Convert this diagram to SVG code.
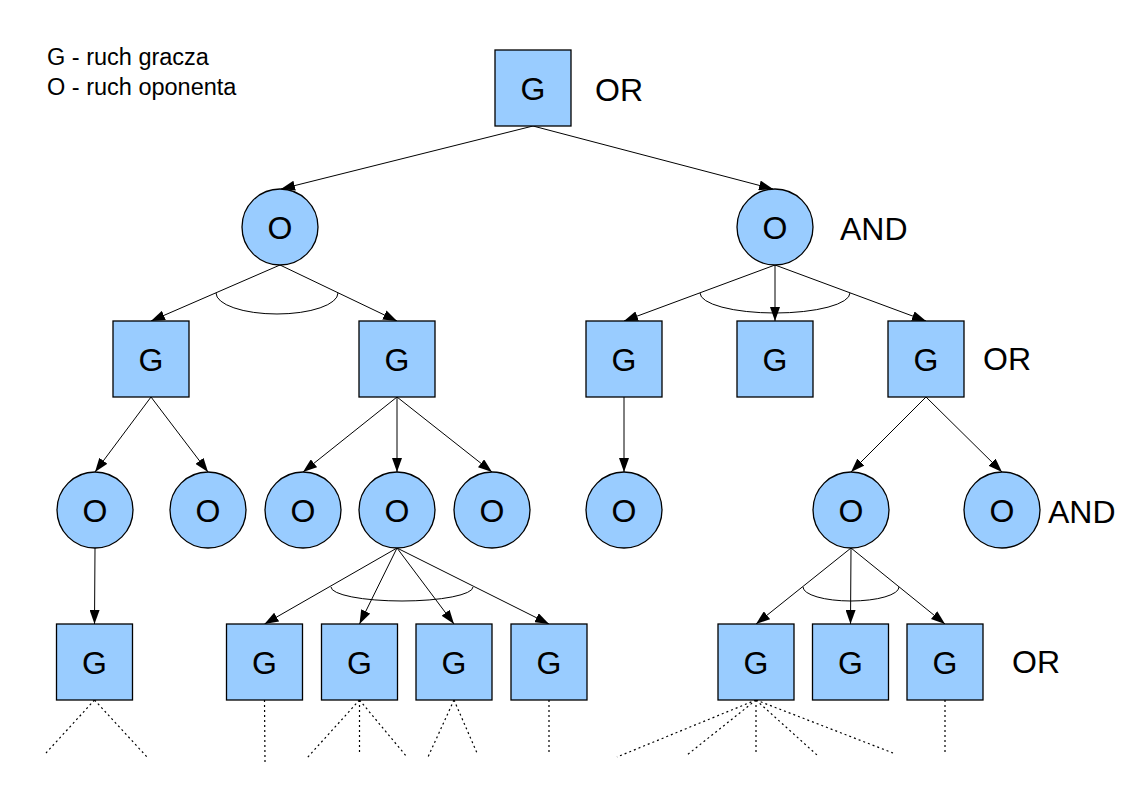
<svg xmlns="http://www.w3.org/2000/svg" width="1123" height="794" viewBox="0 0 1123 794">
<style>
.g rect{fill:#99ccff;stroke:#000;stroke-width:1.3}
.o circle{fill:#99ccff;stroke:#000;stroke-width:1.3}
.t{font-family:"Liberation Sans",Arial,sans-serif;font-size:32px;fill:#000}
.lbl{font-family:"Liberation Sans",Arial,sans-serif;font-size:23.5px;fill:#000}
.c line{stroke:#000;stroke-width:1;marker-end:url(#ah)}
.d line{stroke:#000;stroke-width:1.2;stroke-dasharray:2 3}
.arc path{fill:none;stroke:#000;stroke-width:1}
</style>
<defs>
<marker id="ah" markerUnits="userSpaceOnUse" markerWidth="14" markerHeight="10" refX="14" refY="5" orient="auto">
<path d="M0,0 L14,5 L0,10 z" fill="#000"/>
</marker>
</defs>
<rect width="1123" height="794" fill="#fff"/>
<g id="legend">
<text class="lbl" x="47" y="65">G - ruch gracza</text>
<text class="lbl" x="47" y="95">O - ruch oponenta</text>
</g>
<g id="labels">
<text class="t" x="595" y="101">OR</text>
<text class="t" x="840" y="240">AND</text>
<text class="t" x="983" y="370">OR</text>
<text class="t" x="1048" y="523">AND</text>
<text class="t" x="1012" y="673">OR</text>
</g>
<g id="connectors" class="c">
<line x1="533" y1="126" x2="281" y2="189"/>
<line x1="533" y1="126" x2="773" y2="189"/>
<line x1="280" y1="265" x2="151" y2="321"/>
<line x1="280" y1="265" x2="397" y2="321"/>
<line x1="775" y1="265" x2="624" y2="321"/>
<line x1="775" y1="265" x2="775" y2="321"/>
<line x1="775" y1="265" x2="926" y2="321"/>
<line x1="151" y1="397" x2="95" y2="472"/>
<line x1="151" y1="397" x2="208" y2="472"/>
<line x1="397" y1="397" x2="303" y2="472"/>
<line x1="397" y1="397" x2="397" y2="472"/>
<line x1="397" y1="397" x2="492" y2="472"/>
<line x1="624" y1="397" x2="624" y2="472"/>
<line x1="926" y1="397" x2="851" y2="472"/>
<line x1="926" y1="397" x2="1002" y2="472"/>
<line x1="95" y1="548" x2="94.5" y2="624"/>
<line x1="397" y1="548" x2="264.5" y2="624"/>
<line x1="397" y1="548" x2="359.5" y2="624"/>
<line x1="397" y1="548" x2="454" y2="624"/>
<line x1="397" y1="548" x2="549" y2="624"/>
<line x1="851" y1="548" x2="756" y2="624"/>
<line x1="851" y1="548" x2="850.5" y2="624"/>
<line x1="851" y1="548" x2="945" y2="624"/>
</g>
<g id="and-arcs" class="arc">
<path d="M216,293 A61,21 0 0 0 338,293"/>
<path d="M700,293 A75,20 0 0 0 850,293"/>
<path d="M331,587 A71,14 0 0 0 473,587"/>
<path d="M803,587 A48,14 0 0 0 899,587"/>
</g>
<g id="dotted" class="d">
<line x1="94.5" y1="700" x2="46" y2="753"/>
<line x1="94.5" y1="700" x2="147" y2="757"/>
<line x1="264.5" y1="700" x2="265" y2="762"/>
<line x1="359.5" y1="700" x2="307" y2="758"/>
<line x1="359.5" y1="700" x2="359.5" y2="755"/>
<line x1="359.5" y1="700" x2="407" y2="757"/>
<line x1="454" y1="700" x2="428" y2="757"/>
<line x1="454" y1="700" x2="477" y2="753"/>
<line x1="549" y1="700" x2="549" y2="753"/>
<line x1="756" y1="700" x2="617" y2="757"/>
<line x1="756" y1="700" x2="687" y2="755"/>
<line x1="756" y1="700" x2="756" y2="755"/>
<line x1="756" y1="700" x2="817" y2="755"/>
<line x1="756" y1="700" x2="893" y2="753"/>
<line x1="945" y1="700" x2="945" y2="755"/>
</g>
<g id="n-root" class="g"><rect x="495" y="50" width="76" height="76"/><text class="t" x="533" y="100" text-anchor="middle">G</text></g>
<g id="n-o1" class="o"><circle cx="280" cy="227" r="38"/><text class="t" x="280" y="239" text-anchor="middle">O</text></g>
<g id="n-o2" class="o"><circle cx="775" cy="227" r="38"/><text class="t" x="775" y="239" text-anchor="middle">O</text></g>
<g id="n-g1" class="g"><rect x="113" y="321" width="76" height="76"/><text class="t" x="151" y="371" text-anchor="middle">G</text></g>
<g id="n-g2" class="g"><rect x="359" y="321" width="76" height="76"/><text class="t" x="397" y="371" text-anchor="middle">G</text></g>
<g id="n-g3" class="g"><rect x="586" y="321" width="76" height="76"/><text class="t" x="624" y="371" text-anchor="middle">G</text></g>
<g id="n-g4" class="g"><rect x="737" y="321" width="76" height="76"/><text class="t" x="775" y="371" text-anchor="middle">G</text></g>
<g id="n-g5" class="g"><rect x="888" y="321" width="76" height="76"/><text class="t" x="926" y="371" text-anchor="middle">G</text></g>
<g id="n-o3" class="o"><circle cx="95" cy="510" r="38"/><text class="t" x="95" y="522" text-anchor="middle">O</text></g>
<g id="n-o4" class="o"><circle cx="208" cy="510" r="38"/><text class="t" x="208" y="522" text-anchor="middle">O</text></g>
<g id="n-o5" class="o"><circle cx="303" cy="510" r="38"/><text class="t" x="303" y="522" text-anchor="middle">O</text></g>
<g id="n-o6" class="o"><circle cx="397" cy="510" r="38"/><text class="t" x="397" y="522" text-anchor="middle">O</text></g>
<g id="n-o7" class="o"><circle cx="492" cy="510" r="38"/><text class="t" x="492" y="522" text-anchor="middle">O</text></g>
<g id="n-o8" class="o"><circle cx="624" cy="510" r="38"/><text class="t" x="624" y="522" text-anchor="middle">O</text></g>
<g id="n-o9" class="o"><circle cx="851" cy="510" r="38"/><text class="t" x="851" y="522" text-anchor="middle">O</text></g>
<g id="n-o10" class="o"><circle cx="1002" cy="510" r="38"/><text class="t" x="1002" y="522" text-anchor="middle">O</text></g>
<g id="n-g6" class="g"><rect x="56.5" y="624" width="76" height="76"/><text class="t" x="94.5" y="674" text-anchor="middle">G</text></g>
<g id="n-g7" class="g"><rect x="226.5" y="624" width="76" height="76"/><text class="t" x="264.5" y="674" text-anchor="middle">G</text></g>
<g id="n-g8" class="g"><rect x="321.5" y="624" width="76" height="76"/><text class="t" x="359.5" y="674" text-anchor="middle">G</text></g>
<g id="n-g9" class="g"><rect x="416" y="624" width="76" height="76"/><text class="t" x="454" y="674" text-anchor="middle">G</text></g>
<g id="n-g10" class="g"><rect x="511" y="624" width="76" height="76"/><text class="t" x="549" y="674" text-anchor="middle">G</text></g>
<g id="n-g11" class="g"><rect x="718" y="624" width="76" height="76"/><text class="t" x="756" y="674" text-anchor="middle">G</text></g>
<g id="n-g12" class="g"><rect x="812.5" y="624" width="76" height="76"/><text class="t" x="850.5" y="674" text-anchor="middle">G</text></g>
<g id="n-g13" class="g"><rect x="907" y="624" width="76" height="76"/><text class="t" x="945" y="674" text-anchor="middle">G</text></g>
</svg>
